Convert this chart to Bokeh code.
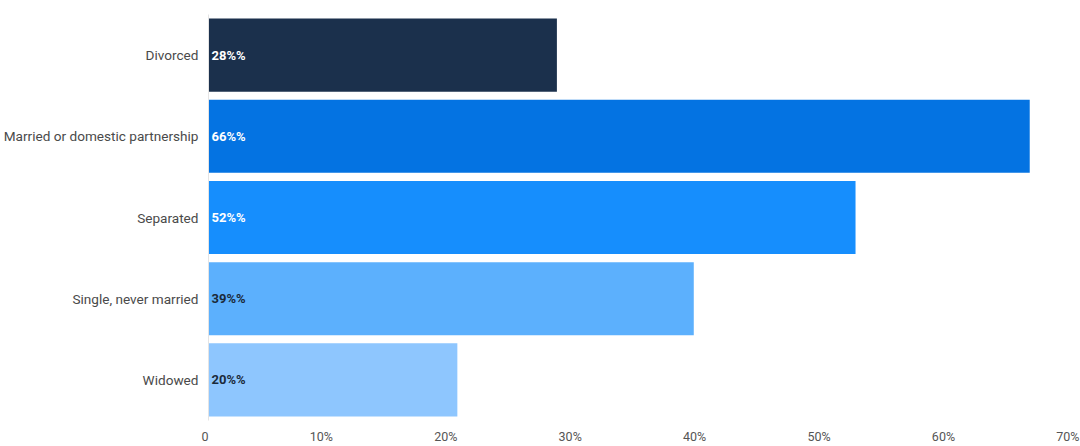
from bokeh.plotting import figure
from bokeh.models import Range1d, FactorRange, FixedTicker, ColumnDataSource
from bokeh.core.properties import value
from bokeh.embed import file_html
from bokeh.resources import INLINE

categories = ["Divorced", "Married or domestic partnership", "Separated",
              "Single, never married", "Widowed"]
values = [28, 66, 52, 39, 20]
bar_labels = ["28%%", "66%%", "52%%", "39%%", "20%%"]
bar_colors = ["#1b304c", "#0473e2", "#168efd", "#5cb0fd", "#8ec6fe"]
label_colors = ["#ffffff", "#ffffff", "#ffffff", "#1b2a3a", "#1b2a3a"]
x_ticks = [0, 10, 20, 30, 40, 50, 60, 70]
x_tick_labels = ["0", "10%", "20%", "30%", "40%", "50%", "60%", "70%"]

src = ColumnDataSource(dict(cat=categories, val=values, lab=bar_labels,
                            col=bar_colors, lcol=label_colors,
                            zero=[0] * len(values)))

p = figure(frame_width=871, frame_height=406, output_backend="svg", toolbar_location=None,
           x_range=Range1d(0, 70), y_range=FactorRange(factors=list(reversed(categories))),
           min_border_left=205, min_border_right=1, min_border_top=14, min_border_bottom=26)
p.y_range.range_padding = 0
p.outline_line_color = None
p.background_fill_color = "white"
p.border_fill_color = "white"

p.hbar(y="cat", left=0, right="val", height=0.9, source=src,
       fill_color="col", line_color=None)
p.text(x="zero", y="cat", text="lab", source=src, x_offset=3,
       text_baseline="middle", text_align="left",
       text_font=value("Roboto"), text_font_style="bold",
       text_font_size="13px", text_color="lcol")

p.xgrid.visible = False
p.ygrid.visible = False

xa = p.xaxis[0]
xa.ticker = FixedTicker(ticks=x_ticks)
xa.major_label_overrides = {t: l for t, l in zip(x_ticks, x_tick_labels)}
xa.axis_line_color = None
xa.major_tick_line_color = None
xa.minor_tick_line_color = None
xa.major_tick_out = 0
xa.major_tick_in = 0
xa.major_label_orientation = 0.0001  # keeps labels horizontal, right-aligned to tick
xa.major_label_standoff = 16
xa.major_label_text_font = "Roboto"
xa.major_label_text_font_size = "12.5px"
xa.major_label_text_color = "#555555"

ya = p.yaxis[0]
ya.axis_line_color = "#e4e4e4"
ya.major_tick_line_color = None
ya.minor_tick_line_color = None
ya.major_tick_out = 0
ya.major_tick_in = 0
ya.major_label_standoff = 10
ya.major_label_text_font = "Roboto"
ya.major_label_text_font_size = "13.6px"
ya.major_label_text_color = "#4a4a4a"

open("out.html", "w").write(file_html(p, INLINE))
